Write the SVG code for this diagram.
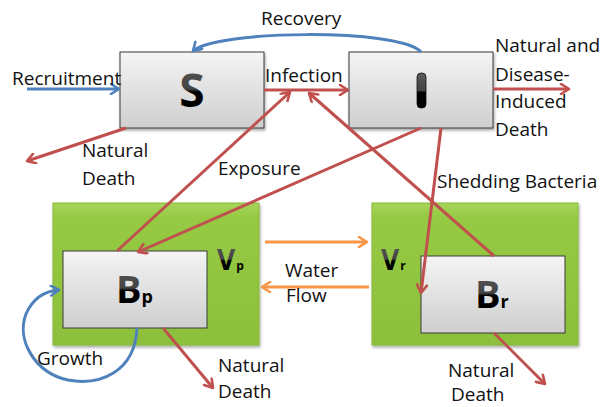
<svg xmlns="http://www.w3.org/2000/svg" width="608" height="407" viewBox="0 0 608 407">
<style>
.t{font-family:"Open Sans","Liberation Sans",sans-serif;font-size:19px;fill:#111;}
.box{fill:url(#gGray);stroke:#3a3a3a;stroke-width:1;}
.grn{fill:url(#gGreen);stroke:#86b83a;stroke-width:1;}
.big{font-family:"Open Sans","Liberation Sans",sans-serif;font-weight:bold;fill:url(#gLet);}
.r{fill:none;stroke:#C0504D;stroke-width:3;marker-end:url(#mR);}
.b{fill:none;stroke:#4F81BD;stroke-width:3;marker-end:url(#mB);}
.o{fill:none;stroke:#F79646;stroke-width:3;marker-end:url(#mO);}
</style>
<defs>
<linearGradient id="gGray" x1="0" y1="0" x2="0" y2="1">
<stop offset="0" stop-color="#f4f4f4"/><stop offset="1" stop-color="#cfcfcf"/>
</linearGradient>
<linearGradient id="gGreen" x1="0" y1="0" x2="0" y2="1">
<stop offset="0" stop-color="#a6d55a"/><stop offset="0.1" stop-color="#96ca44"/><stop offset="1" stop-color="#8cc03c"/>
</linearGradient>
<linearGradient id="gLet" x1="0" y1="0" x2="0" y2="1">
<stop offset="0" stop-color="#5a5a5a"/><stop offset="0.5" stop-color="#444"/><stop offset="0.55" stop-color="#000"/><stop offset="1" stop-color="#000"/>
</linearGradient>
<filter id="sh" x="-10%" y="-10%" width="130%" height="130%">
<feGaussianBlur in="SourceAlpha" stdDeviation="1.5"/><feOffset dx="1" dy="2"/>
<feComponentTransfer><feFuncA type="linear" slope="0.35"/></feComponentTransfer>
<feMerge><feMergeNode/><feMergeNode in="SourceGraphic"/></feMerge>
</filter>
<marker id="mR" viewBox="0 0 12 12" refX="10" refY="6" markerWidth="12" markerHeight="12" markerUnits="userSpaceOnUse" orient="auto"><path d="M2,1 L10,6 L2,11" fill="none" stroke="#C0504D" stroke-width="2.6" stroke-linecap="round" stroke-linejoin="round"/></marker>
<marker id="mB" viewBox="0 0 12 12" refX="10" refY="6" markerWidth="12" markerHeight="12" markerUnits="userSpaceOnUse" orient="auto"><path d="M2,1 L10,6 L2,11" fill="none" stroke="#4F81BD" stroke-width="2.6" stroke-linecap="round" stroke-linejoin="round"/></marker>
<marker id="mO" viewBox="0 0 12 12" refX="10" refY="6" markerWidth="12" markerHeight="12" markerUnits="userSpaceOnUse" orient="auto"><path d="M2,1 L10,6 L2,11" fill="none" stroke="#F79646" stroke-width="2.6" stroke-linecap="round" stroke-linejoin="round"/></marker>
</defs>
<rect width="608" height="407" fill="#fff"/>

<g id="node-Vp">
<rect class="grn" x="53" y="203" width="206" height="142" filter="url(#sh)"/>
<text class="big" x="217" y="270" font-size="28">V<tspan font-size="12" dx="1">p</tspan></text>
</g>
<g id="node-Vr">
<rect class="grn" x="372" y="203" width="206" height="142" filter="url(#sh)"/>
<text class="big" x="381" y="270" font-size="28">V<tspan font-size="12" dx="1">r</tspan></text>
</g>
<g id="node-S">
<rect class="box" x="120" y="52" width="144" height="76" filter="url(#sh)"/>
<text class="big" x="192" y="107" font-size="46" text-anchor="middle">S</text>
</g>
<g id="node-I">
<rect class="box" x="349" y="52" width="144" height="76" filter="url(#sh)"/>
<rect x="417" y="73" width="9" height="35" rx="4" fill="url(#gLet)" stroke="#111" stroke-width="0.8"/>
</g>
<g id="node-Bp">
<rect class="box" x="63" y="251" width="144" height="77"/>
<text class="big" x="116" y="303" font-size="38">B<tspan font-size="18">p</tspan></text>
</g>
<g id="node-Br">
<rect class="box" x="421" y="256" width="144" height="77"/>
<text class="big" x="475" y="308" font-size="38">B<tspan font-size="18">r</tspan></text>
</g>

<g id="connectors">
<path class="b" d="M27,89 L119,89"/>
<path class="b" d="M421,52 C400,28 215,30 193,51"/>
<path class="r" d="M264,90 L348,90"/>
<path class="r" d="M493,89 L569,89"/>
<path class="r" d="M126,128 L27,161"/>
<path class="r" d="M117,251 L290,92"/>
<path class="r" d="M421,128 L138,252"/>
<path class="r" d="M494,256 L309,93"/>
<path class="r" d="M441,128 L421,293"/>
<path class="o" d="M265,242 L367,242"/>
<path class="o" d="M369,287 L262,287"/>
<path class="b" d="M137,328 C135,372 100,386 68,380 C35,373 16,340 26,314 C33,298 45,291 59,290"/>
<path class="r" d="M163,328 L213,388"/>
<path class="r" d="M494,333 L545,384"/>
</g>

<g id="labels">
<text class="t" x="261" y="25">Recovery</text>
<text class="t" x="12" y="85">Recruitment</text>
<text class="t" x="265" y="82">Infection</text>
<text class="t" x="495" y="52">Natural and</text>
<text class="t" x="495" y="81">Disease-</text>
<text class="t" x="495" y="108">Induced</text>
<text class="t" x="495" y="136">Death</text>
<text class="t" x="82" y="157">Natural</text>
<text class="t" x="82" y="185">Death</text>
<text class="t" x="218" y="175">Exposure</text>
<text class="t" x="437" y="188">Shedding Bacteria</text>
<text class="t" x="285" y="277">Water</text>
<text class="t" x="286" y="302">Flow</text>
<text class="t" x="37" y="365">Growth</text>
<text class="t" x="218" y="372">Natural</text>
<text class="t" x="218" y="398">Death</text>
<text class="t" x="448" y="377">Natural</text>
<text class="t" x="451" y="401">Death</text>
</g>
</svg>
